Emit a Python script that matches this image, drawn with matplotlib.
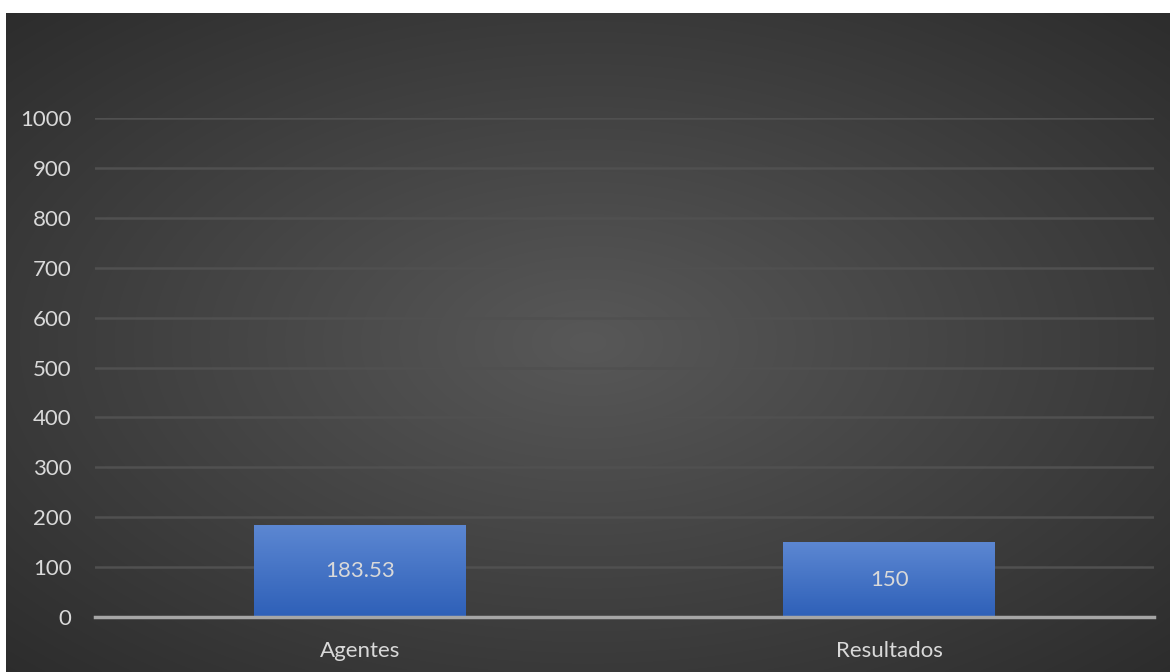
import matplotlib.pyplot as plt
import numpy as np

categories = ["Agentes", "Resultados"]
values = [183.53, 150]
labels = ["183.53", "150"]
yticks = [0, 100, 200, 300, 400, 500, 600, 700, 800, 900, 1000]

plt.rcParams['font.family'] = ['Lato', 'DejaVu Sans']
text_col = "#d9d9d9"

fig = plt.figure(figsize=(11.7, 6.72), dpi=100)
fig.patch.set_facecolor("white")

# dark panel with radial gradient
W, H = 1170, 672
bg = fig.add_axes([6 / W, 0, 1 - 6 / W, 1 - 13 / H])
bg.set_axis_off()
yy, xx = np.mgrid[-1:1:300j, -1:1:500j]
r = np.sqrt(xx ** 2 + yy ** 2) / np.sqrt(2)
grad = 0.345 - 0.17 * r
bg.imshow(np.dstack([grad] * 3), aspect="auto", extent=[0, 1, 0, 1], interpolation="bilinear")

ax = fig.add_axes([95 / W, 1 - 617 / H, (1154 - 95) / W, (617 - 118) / H])
ax.patch.set_alpha(0)
x = np.arange(len(categories))
bars = ax.bar(x, values, width=0.4, color="#4472c4", zorder=3)

# vertical gradient inside each bar
t = np.linspace(0, 1, 100).reshape(-1, 1, 1)
top = np.array([0x5c, 0x87, 0xd2]) / 255
bot = np.array([0x2e, 0x60, 0xb8]) / 255
gimg = bot * t + top * (1 - t)
for b in bars:
    bx, by = b.get_x(), b.get_y()
    im = ax.imshow(gimg, aspect="auto", zorder=4,
                   extent=[bx, bx + b.get_width(), by, by + b.get_height()])
    im.set_clip_path(b)

for xi, v, lab in zip(x, values, labels):
    ax.text(xi, v / 2, lab, ha="center", va="center", color=text_col, fontsize=16, zorder=5)

ax.set_yticks(yticks)
ax.set_xticks(x)
ax.set_xticklabels(categories)
ax.tick_params(colors=text_col, labelsize=16, length=0)
ax.tick_params(axis="x", pad=17)
ax.tick_params(axis="y", pad=17)
ax.yaxis.grid(True, color="#505050", linewidth=1.8, zorder=0)
for s in ["top", "right", "left"]:
    ax.spines[s].set_visible(False)
ax.spines["bottom"].set_color("#a6a6a6")
ax.spines["bottom"].set_linewidth(2.5)
ax.spines["bottom"].set_zorder(6)
ax.set_xlim(-0.5, 1.5)
ax.set_ylim(0, 1000)

fig.savefig("out.png", dpi=100, facecolor=fig.get_facecolor())
